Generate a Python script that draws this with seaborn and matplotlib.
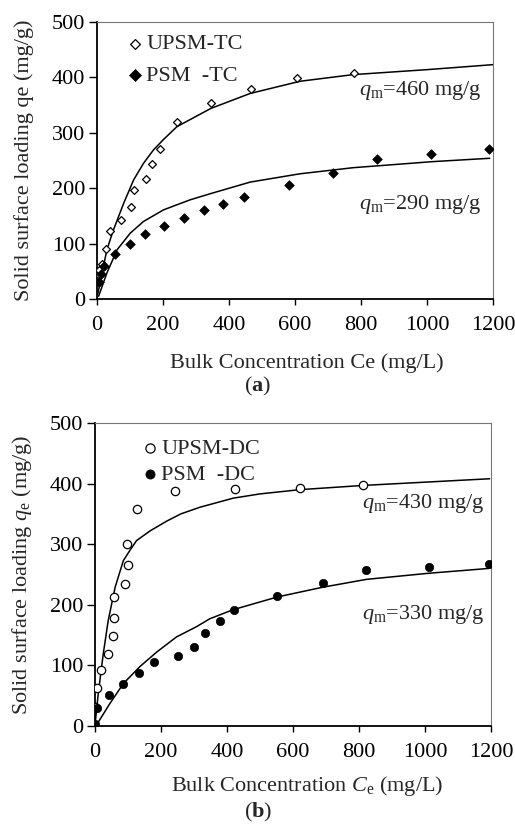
import matplotlib
matplotlib.use("Agg")
import matplotlib.pyplot as plt
import seaborn as sns

## data
# (a) TC
upsm_tc_x = [2, 6, 14, 28, 39, 74, 102, 112, 148, 168, 190, 242, 345, 466, 605, 780]
upsm_tc_y = [46, 53, 64, 90, 122, 143, 166, 196, 217, 243, 270, 320, 354, 379, 399, 408]
psm_tc_x = [5, 12, 22, 55, 99, 144, 204, 265, 323, 381, 444, 583, 714, 847, 1013, 1188]
psm_tc_y = [30, 45, 59, 81, 99, 118, 132, 146, 160, 172, 185, 206, 228, 252, 262, 271]
upsm_tc_fit_x = [2, 30, 50, 81, 111, 141, 171, 200, 242, 345, 464, 615, 776, 1000, 1200]
upsm_tc_fit_y = [8, 89, 125, 173, 215, 245, 269, 287, 311, 344, 371, 393, 405, 414, 423]
psm_tc_fit_x = [5, 30, 61, 101, 141, 202, 282, 343, 464, 615, 776, 1018, 1190]
psm_tc_fit_y = [5, 47, 89, 119, 140, 161, 179, 190, 211, 226, 237, 248, 254]

# (b) DC
upsm_dc_x = [0, 7, 18, 40, 54, 58, 58, 91, 101, 96, 127, 242, 425, 622, 811]
upsm_dc_y = [32, 63, 93, 119, 148, 179, 213, 235, 265, 300, 358, 387, 391, 393, 397]
psm_dc_x = [0, 7, 42, 86, 133, 179, 250, 301, 333, 379, 421, 553, 690, 821, 1011, 1193]
psm_dc_y = [3, 29, 51, 70, 88, 106, 115, 131, 153, 173, 192, 215, 236, 258, 262, 268]
upsm_dc_fit_x = [0, 10, 25, 40, 61, 86, 106, 126, 167, 217, 260, 318, 419, 500, 621, 813, 1196]
upsm_dc_fit_y = [2, 54, 119, 174, 229, 273, 290, 306, 322, 338, 350, 361, 376, 383, 390, 397, 408]
psm_dc_fit_x = [5, 45, 86, 136, 187, 247, 308, 348, 419, 553, 690, 823, 1010, 1193]
psm_dc_fit_y = [2, 37, 70, 98, 122, 147, 164, 177, 192, 213, 229, 242, 252, 260]

x_ticks = [0, 200, 400, 600, 800, 1000, 1200]
y_ticks = [0, 100, 200, 300, 400, 500]

sns.set_style("ticks")
plt.rcParams['font.family'] = ['Liberation Serif', 'DejaVu Serif']
plt.rcParams['mathtext.fontset'] = 'custom'
plt.rcParams['mathtext.rm'] = 'Liberation Serif'
plt.rcParams['mathtext.it'] = 'Liberation Serif:italic'
plt.rcParams['mathtext.bf'] = 'Liberation Serif:bold'
FS = 16

fig = plt.figure(figsize=(5.15, 8.27), dpi=100)
ax_a = fig.add_axes([97 / 515, 1 - 299 / 827, 396 / 515, 277 / 827])
ax_b = fig.add_axes([95 / 515, 1 - 726 / 827, 396 / 515, 303 / 827])


def style_axes(ax):
    ax.set_xlim(0, 1200)
    ax.set_ylim(0, 500)
    ax.set_xticks(x_ticks)
    ax.set_yticks(y_ticks)
    ax.tick_params(axis='x', direction='out', length=4, width=1, pad=8,
                   labelsize=FS, colors='black')
    ax.tick_params(axis='y', direction='out', length=6, width=1, pad=2.5,
                   labelsize=FS, colors='black')
    for side in ['left', 'bottom']:
        ax.spines[side].set_color('black')
        ax.spines[side].set_linewidth(1.3)
    for side in ['top', 'right']:
        ax.spines[side].set_visible(True)
        ax.spines[side].set_color('#777777')
        ax.spines[side].set_linewidth(0.8)


## (a)
sns.lineplot(x=upsm_tc_fit_x, y=upsm_tc_fit_y, color='black', lw=1.1,
             sort=False, estimator=None, ax=ax_a)
sns.lineplot(x=psm_tc_fit_x, y=psm_tc_fit_y, color='black', lw=1.1,
             sort=False, estimator=None, ax=ax_a)
sns.scatterplot(x=upsm_tc_x, y=upsm_tc_y, marker='D', s=16, facecolor='white',
                edgecolor='black', linewidth=0.9, label='UPSM-TC', ax=ax_a, zorder=3)
sns.scatterplot(x=psm_tc_x, y=psm_tc_y, marker='D', s=24, color='black',
                edgecolor='black', linewidth=0.5, label='PSM  -TC', ax=ax_a, zorder=3)
style_axes(ax_a)
ax_a.legend(loc='upper left', bbox_to_anchor=(0.08, 0.957), frameon=False,
            fontsize=FS, handlelength=0.6, handletextpad=0.2, markerscale=1.25,
            labelspacing=0.5, borderaxespad=0, borderpad=0)
ax_a.text(1165, 377, r'$q_\mathrm{m}$=460 mg/g', ha='right', va='center', fontsize=FS)
ax_a.text(1165, 170, r'$q_\mathrm{m}$=290 mg/g', ha='right', va='center', fontsize=FS)
ax_a.set_xlabel('Bulk Concentration Ce (mg/L)', fontsize=FS)
ax_a.set_ylabel('Solid surface loading qe (mg/g)', fontsize=FS)
ax_a.xaxis.set_label_coords(0.53, -0.195)
ax_a.yaxis.set_label_coords(-0.16, 0.5)

## (b)
sns.lineplot(x=upsm_dc_fit_x, y=upsm_dc_fit_y, color='black', lw=1.1,
             sort=False, estimator=None, ax=ax_b)
sns.lineplot(x=psm_dc_fit_x, y=psm_dc_fit_y, color='black', lw=1.1,
             sort=False, estimator=None, ax=ax_b)
sns.scatterplot(x=upsm_dc_x, y=upsm_dc_y, marker='o', s=36, facecolor='white',
                edgecolor='black', linewidth=0.9, label='UPSM-DC', ax=ax_b, zorder=3)
sns.scatterplot(x=psm_dc_x, y=psm_dc_y, marker='o', s=36, color='black',
                edgecolor='black', linewidth=0.5, label='PSM  -DC', ax=ax_b, zorder=3)
style_axes(ax_b)
ax_b.legend(loc='upper left', bbox_to_anchor=(0.123, 0.949), frameon=False,
            fontsize=FS, handlelength=0.6, handletextpad=0.2, markerscale=1.1,
            labelspacing=0.23, borderaxespad=0, borderpad=0)
ax_b.text(1180, 367, r'$q_\mathrm{m}$=430 mg/g', ha='right', va='center', fontsize=FS)
ax_b.text(1180, 184, r'$q_\mathrm{m}$=330 mg/g', ha='right', va='center', fontsize=FS)
ax_b.set_xlabel(r'Bulk Concentration $C_\mathrm{e}$ (mg/L)', fontsize=FS)
ax_b.set_ylabel(r'Solid surface loading $q_\mathrm{e}$ (mg/g)', fontsize=FS)
ax_b.xaxis.set_label_coords(0.535, -0.16)
ax_b.yaxis.set_label_coords(-0.155, 0.5)

fig.text(0.501, 1 - 386 / 827, r'($\mathbf{a}$)', ha='center', va='center', fontsize=FS)
fig.text(0.501, 1 - 812 / 827, r'($\mathbf{b}$)', ha='center', va='center', fontsize=FS)

fig.savefig('out.png', dpi=100)
